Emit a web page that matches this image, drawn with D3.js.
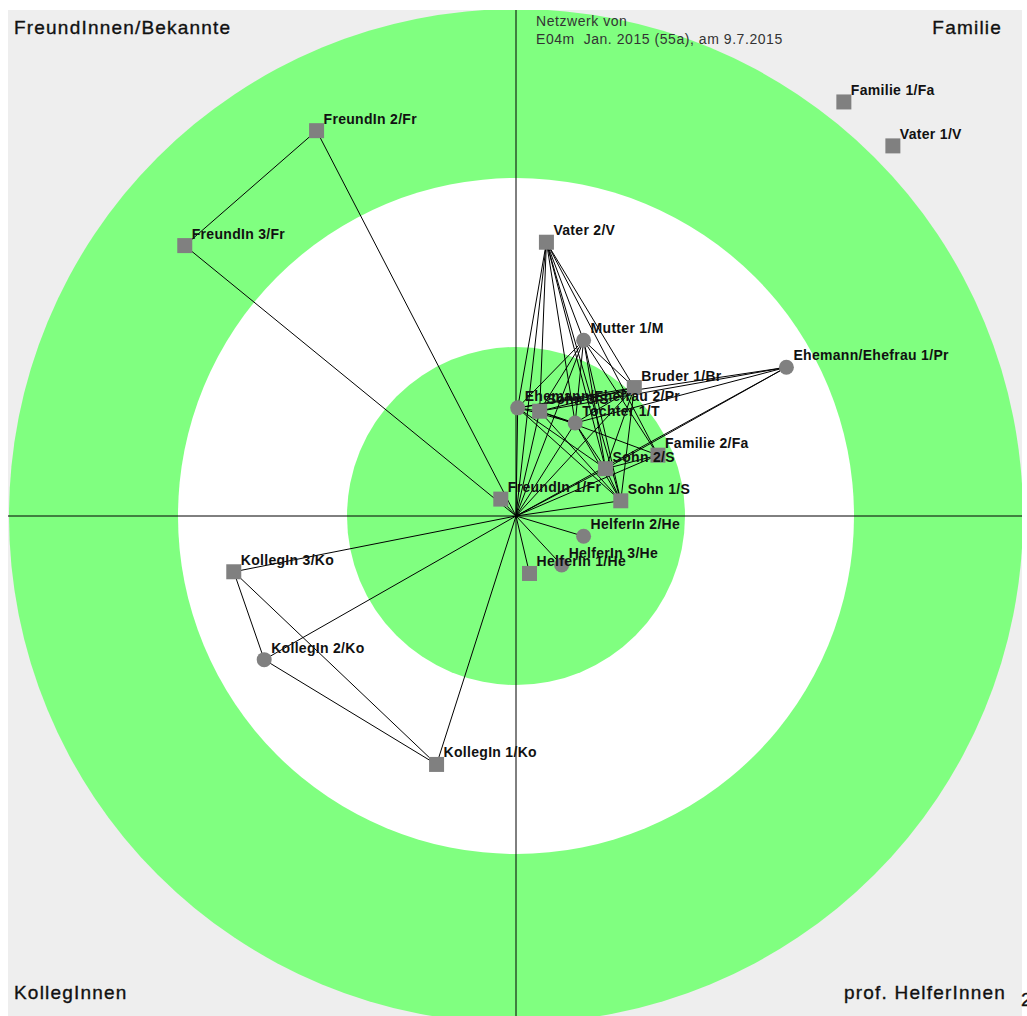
<!DOCTYPE html>
<html>
<head>
<meta charset="utf-8">
<script src="https://d3js.org/d3.v7.min.js"></script>
<style>
  body { margin: 0; background: #ffffff; overflow: hidden; }
  .quad { font-family: 'Liberation Sans', Arial, sans-serif; font-size: 19px; fill: #111; letter-spacing: 1.2px; stroke: #111; stroke-width: 0.35px; }
  .sub { font-family: 'Liberation Sans', Arial, sans-serif; font-size: 14px; fill: #333; letter-spacing: 0.55px; white-space: pre; }
  .lbl { font-family: 'Liberation Sans', Arial, sans-serif; font-size: 14px; font-weight: bold; fill: #111; letter-spacing: 0.3px; }
</style>
</head>
<body>
<div id="chart"></div>
<script>
// ring boundaries (in radius units)
const rings = [3, 2, 1];
const ringColors = ['#80ff80', '#ffffff', '#80ff80'];

// alters: name, position, shape
const nodeNames = ['Familie 1/Fa', 'Vater 1/V', 'FreundIn 2/Fr', 'FreundIn 3/Fr', 'Vater 2/V',
  'Mutter 1/M', 'Bruder 1/Br', 'Ehemann/Ehefrau 1/Pr', 'Ehemann/Ehefrau 2/Pr', 'Sohn 3/S',
  'Tochter 1/T', 'Familie 2/Fa', 'Sohn 2/S', 'Sohn 1/S', 'FreundIn 1/Fr',
  'HelferIn 2/He', 'HelferIn 3/He', 'HelferIn 1/He', 'KollegIn 3/Ko', 'KollegIn 2/Ko', 'KollegIn 1/Ko'];
const nodeX = [1.94, 2.23, -1.18, -1.96, 0.18, 0.40, 0.70, 1.60, 0.01, 0.14,
  0.35, 0.84, 0.53, 0.62, -0.09, 0.40, 0.27, 0.08, -1.67, -1.49, -0.47];
const nodeY = [2.45, 2.19, 2.28, 1.60, 1.62, 1.04, 0.76, 0.88, 0.64, 0.62,
  0.55, 0.36, 0.28, 0.09, 0.10, -0.12, -0.29, -0.34, -0.33, -0.85, -1.47];
const nodeShape = ['sq', 'sq', 'sq', 'sq', 'sq', 'ci', 'sq', 'ci', 'ci', 'sq',
  'ci', 'sq', 'sq', 'sq', 'sq', 'ci', 'ci', 'sq', 'sq', 'ci', 'sq'];

// ties ('Ego' = centre)
const edgeFrom = [
  'Ego','Ego','Ego','Ego','Ego','Ego','Ego','Ego','Ego','Ego','Ego','Ego','Ego','Ego','Ego','Ego','Ego','Ego','Ego',
  'FreundIn 2/Fr','KollegIn 3/Ko','KollegIn 3/Ko','KollegIn 2/Ko',
  'Vater 2/V','Vater 2/V','Vater 2/V','Vater 2/V','Vater 2/V','Vater 2/V','Vater 2/V','Vater 2/V',
  'Mutter 1/M','Mutter 1/M','Mutter 1/M','Mutter 1/M','Mutter 1/M','Mutter 1/M','Mutter 1/M',
  'Bruder 1/Br','Bruder 1/Br','Bruder 1/Br','Bruder 1/Br','Bruder 1/Br',
  'Ehemann/Ehefrau 1/Pr','Ehemann/Ehefrau 1/Pr','Ehemann/Ehefrau 1/Pr','Ehemann/Ehefrau 1/Pr',
  'Ehemann/Ehefrau 2/Pr','Ehemann/Ehefrau 2/Pr','Ehemann/Ehefrau 2/Pr','Ehemann/Ehefrau 2/Pr',
  'Sohn 3/S','Sohn 3/S','Sohn 3/S','Tochter 1/T','Tochter 1/T','Sohn 2/S','Familie 2/Fa'];
const edgeTo = [
  'FreundIn 1/Fr','FreundIn 2/Fr','FreundIn 3/Fr','KollegIn 1/Ko','KollegIn 2/Ko','KollegIn 3/Ko',
  'HelferIn 1/He','HelferIn 2/He','HelferIn 3/He','Sohn 1/S','Sohn 2/S','Familie 2/Fa','Tochter 1/T',
  'Sohn 3/S','Ehemann/Ehefrau 2/Pr','Mutter 1/M','Bruder 1/Br','Vater 2/V','Ehemann/Ehefrau 1/Pr',
  'FreundIn 3/Fr','KollegIn 2/Ko','KollegIn 1/Ko','KollegIn 1/Ko',
  'Mutter 1/M','Bruder 1/Br','Sohn 1/S','Sohn 2/S','Tochter 1/T','Sohn 3/S','Ehemann/Ehefrau 2/Pr','Familie 2/Fa',
  'Bruder 1/Br','Sohn 1/S','Sohn 2/S','Tochter 1/T','Sohn 3/S','Ehemann/Ehefrau 2/Pr','Familie 2/Fa',
  'Sohn 3/S','Ehemann/Ehefrau 2/Pr','Sohn 1/S','Sohn 2/S','Tochter 1/T',
  'Sohn 3/S','Tochter 1/T','Sohn 2/S','Ehemann/Ehefrau 2/Pr',
  'Sohn 3/S','Tochter 1/T','Sohn 1/S','Sohn 2/S',
  'Tochter 1/T','Sohn 1/S','Familie 2/Fa','Sohn 2/S','Sohn 1/S','Sohn 1/S','Sohn 2/S'];

const quadLabels = ['FreundInnen/Bekannte', 'Familie', 'KollegInnen', 'prof. HelferInnen'];
const subtitle = ['Netzwerk von', 'E04m  Jan. 2015 (55a), am 9.7.2015'];

const W = 1027, H = 1016;
const box = { left: 8, top: 10, right: 1022, bottom: 1016 };
const cx = 516, cy = 516, unit = 169;

const xScale = d3.scaleLinear().domain([-3, 3]).range([cx - 3 * unit, cx + 3 * unit]);
const yScale = d3.scaleLinear().domain([-3, 3]).range([cy + 3 * unit, cy - 3 * unit]);

const svg = d3.select('#chart').append('svg')
  .attr('width', W).attr('height', H);

svg.append('defs').append('clipPath').attr('id', 'plotclip')
  .append('rect')
  .attr('x', box.left).attr('y', box.top)
  .attr('width', box.right - box.left).attr('height', box.bottom - box.top);

const g = svg.append('g').attr('clip-path', 'url(#plotclip)');

g.append('rect')
  .attr('x', box.left).attr('y', box.top)
  .attr('width', box.right - box.left).attr('height', box.bottom - box.top)
  .attr('fill', '#eeeeee');

g.selectAll('circle.ring').data(rings)
  .enter().append('circle')
  .attr('class', 'ring')
  .attr('cx', xScale(0)).attr('cy', yScale(0))
  .attr('r', d => xScale(d) - xScale(0))
  .attr('fill', (d, i) => ringColors[i]);

// axes through the centre
g.append('line')
  .attr('x1', box.left).attr('x2', box.right)
  .attr('y1', yScale(0)).attr('y2', yScale(0))
  .attr('stroke', '#000').attr('stroke-width', 1);
g.append('line')
  .attr('x1', xScale(0)).attr('x2', xScale(0))
  .attr('y1', box.top).attr('y2', box.bottom)
  .attr('stroke', '#000').attr('stroke-width', 1);

const nodes = nodeNames.map((n, i) => ({ name: n, x: nodeX[i], y: nodeY[i], shape: nodeShape[i] }));
const byName = { Ego: { x: 0, y: 0 } };
nodes.forEach(d => byName[d.name] = d);
const edges = edgeFrom.map((f, i) => ({ a: byName[f], b: byName[edgeTo[i]] }));

g.selectAll('line.edge').data(edges)
  .enter().append('line')
  .attr('class', 'edge')
  .attr('x1', d => xScale(d.a.x)).attr('y1', d => yScale(d.a.y))
  .attr('x2', d => xScale(d.b.x)).attr('y2', d => yScale(d.b.y))
  .attr('stroke', '#000').attr('stroke-width', 1);

const sq = 15;
g.selectAll('rect.node').data(nodes.filter(d => d.shape === 'sq'))
  .enter().append('rect')
  .attr('class', 'node')
  .attr('x', d => xScale(d.x) - sq / 2).attr('y', d => yScale(d.y) - sq / 2)
  .attr('width', sq).attr('height', sq)
  .attr('fill', '#808080');

g.selectAll('circle.node').data(nodes.filter(d => d.shape === 'ci'))
  .enter().append('circle')
  .attr('class', 'node')
  .attr('cx', d => xScale(d.x)).attr('cy', d => yScale(d.y))
  .attr('r', 7.5)
  .attr('fill', '#808080');

g.selectAll('text.lbl').data(nodes)
  .enter().append('text')
  .attr('class', 'lbl')
  .attr('x', d => xScale(d.x) + 7)
  .attr('y', d => yScale(d.y) - 7)
  .text(d => d.name);

// quadrant titles
g.append('text').attr('class', 'quad').attr('x', 14).attr('y', 34).text(quadLabels[0]);
g.append('text').attr('class', 'quad').attr('x', 1002).attr('y', 34)
  .attr('text-anchor', 'end').text(quadLabels[1]);
g.append('text').attr('class', 'quad').attr('x', 14).attr('y', 999).text(quadLabels[2]);
g.append('text').attr('class', 'quad').attr('x', 1006).attr('y', 999)
  .attr('text-anchor', 'end').text(quadLabels[3]);

g.selectAll('text.sub').data(subtitle)
  .enter().append('text')
  .attr('class', 'sub')
  .attr('x', 536).attr('y', (d, i) => 26 + i * 18)
  .text(d => d);

// stray page number cut at the right edge
svg.append('text').attr('class', 'quad').attr('x', 1021).attr('y', 1006).text('2');
</script>
</body>
</html>
